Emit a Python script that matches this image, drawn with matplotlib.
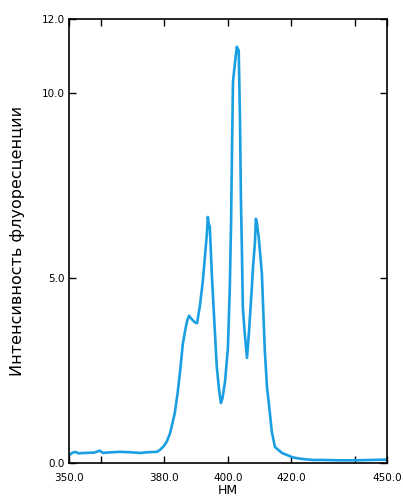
import matplotlib
matplotlib.use('Agg')
import matplotlib.pyplot as plt

# wavelength (nm) and fluorescence intensity
wl = [350.0, 351.0, 352.0, 353.0, 355.0, 358.0, 359.7, 360.7, 362.0, 366.0,
      369.0, 372.3, 375.0, 377.7, 378.6, 379.8, 380.8, 381.8, 382.5, 383.3,
      384.2, 385.0, 385.8, 386.6, 387.2, 387.8, 388.5, 389.6, 390.3, 391.2,
      392.1, 392.8, 393.4, 393.7, 394.0, 394.3, 395.0, 395.5, 396.5, 397.2,
      397.8, 398.3, 399.1, 400.0, 400.6, 401.0, 401.3, 401.6, 402.2, 402.8,
      403.4, 403.8, 404.1, 404.4, 404.7, 405.3, 406.0, 406.6, 407.5, 407.9,
      408.5, 408.8, 409.1, 409.7, 410.7, 411.0, 411.6, 412.3, 413.2, 413.8,
      414.8, 417.0, 420.4, 423.0, 426.7, 430.0, 435.0, 440.0, 445.0, 450.0]
inten = [0.20, 0.27, 0.30, 0.26, 0.27, 0.28, 0.33, 0.27, 0.28, 0.30,
         0.29, 0.27, 0.29, 0.30, 0.35, 0.45, 0.58, 0.80, 1.05, 1.35,
         1.90, 2.50, 3.20, 3.60, 3.85, 3.98, 3.90, 3.80, 3.78, 4.25,
         4.90, 5.60, 6.20, 6.65, 6.45, 6.40, 5.00, 4.20, 2.60, 2.00,
         1.62, 1.75, 2.20, 3.10, 4.75, 6.50, 8.50, 10.30, 10.80, 11.25,
         11.15, 9.30, 7.10, 5.80, 4.20, 3.50, 2.84, 3.50, 4.70, 5.30,
         5.95, 6.60, 6.50, 6.10, 5.10, 4.40, 3.05, 2.05, 1.35, 0.85,
         0.43, 0.27, 0.15, 0.11, 0.08, 0.08, 0.07, 0.07, 0.08, 0.09]

xticks = [350, 360, 380, 400, 420, 440, 450]
xlabels = ['350.0', '', '380.0', '400.0', '420.0', '', '450.0']
yticks = [0, 5, 10, 12]
ylabels = ['0.0', '5.0', '10.0', '12.0']

fig = plt.figure(figsize=(4.03, 5.01), dpi=100)
ax = fig.add_axes([0.171, 0.076, 0.789, 0.886])
ax.plot(wl, inten, color='#1a9fe3', lw=1.9)

ax.set_xlim(350, 450)
ax.set_ylim(0, 12)
ax.set_xticks(xticks)
ax.set_xticklabels(xlabels)
ax.set_yticks(yticks)
ax.set_yticklabels(ylabels)
ax.tick_params(direction='in', top=True, right=True, length=5, width=1,
               labelsize=7.5)
ax.tick_params(axis='x', pad=7)
ax.tick_params(axis='y', pad=3)
for s in ax.spines.values():
    s.set_linewidth(1.2)

ax.set_xlabel('НМ', fontsize=9, labelpad=1)
ax.set_ylabel('Интенсивность флуоресценции', fontsize=11.5, labelpad=12)

fig.savefig('out.png', dpi=100)
